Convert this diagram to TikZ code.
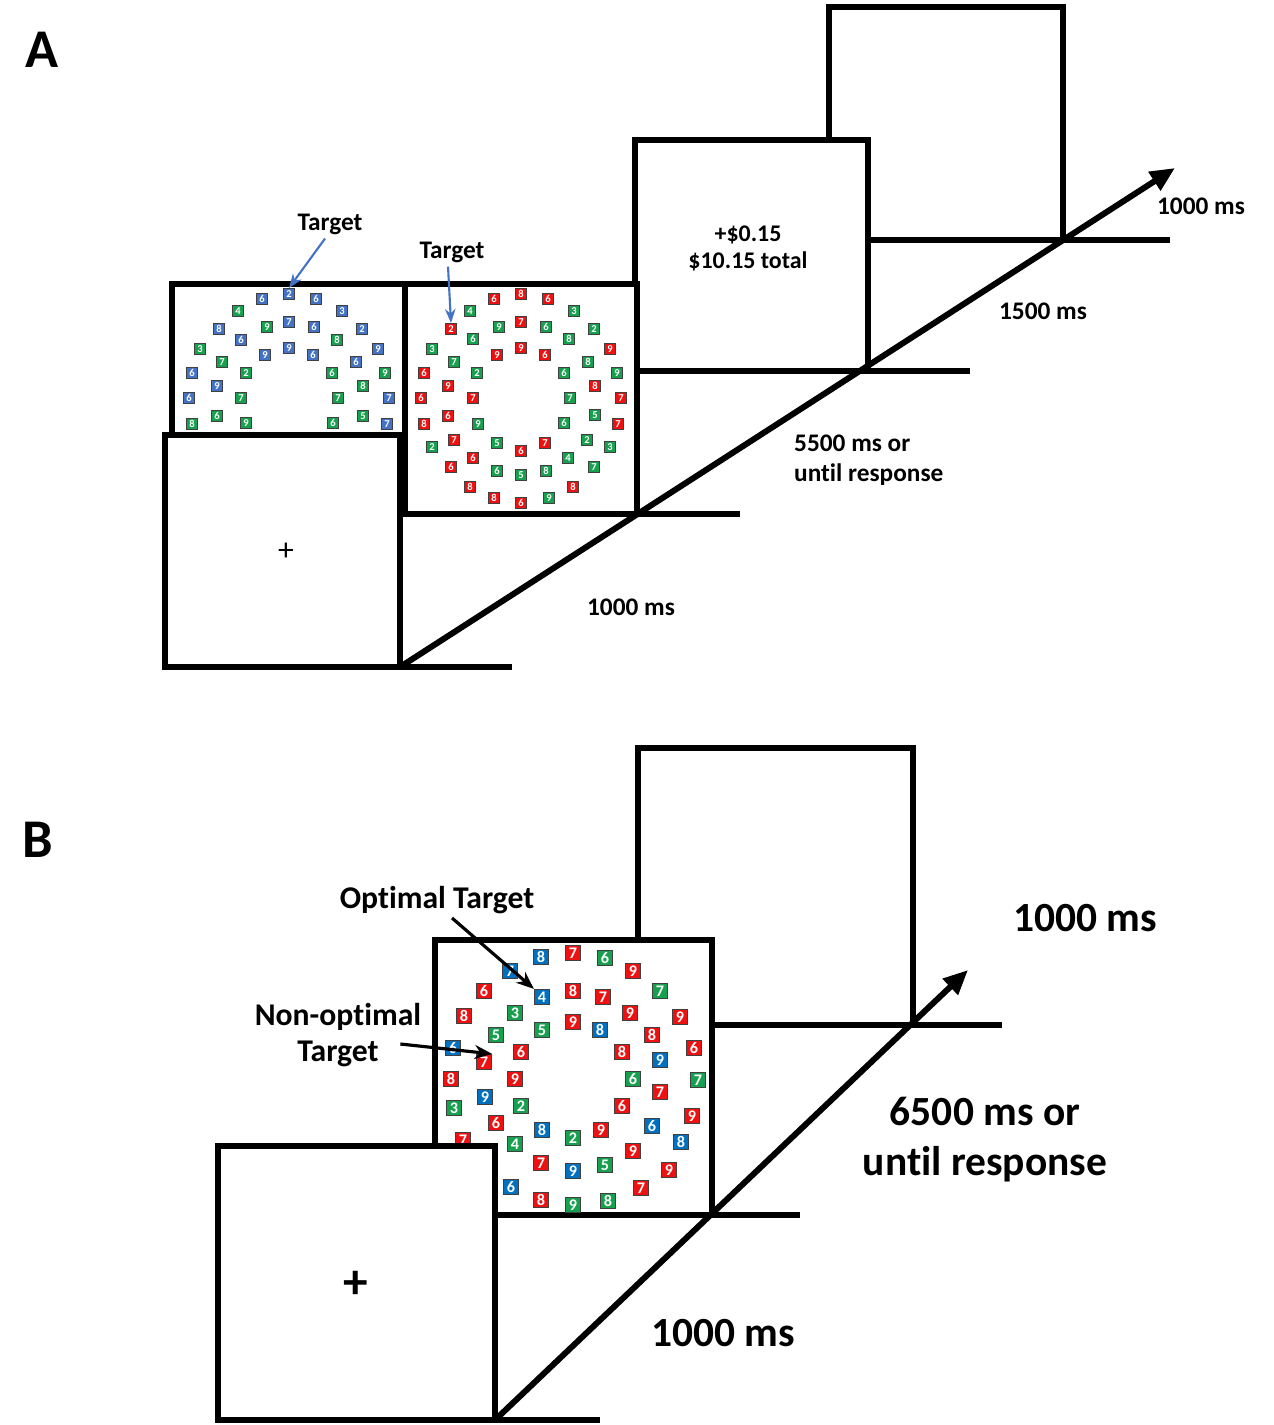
\documentclass[tikz,border=0pt]{standalone}
\usepackage{fontspec}
\setmainfont{Carlito}[Ligatures=NoCommon]
\usetikzlibrary{arrows.meta}

\definecolor{sqblue}{HTML}{4472C4}
\definecolor{sqbluedk}{HTML}{0070C0}
\definecolor{sqgreen}{HTML}{17A04E}
\definecolor{sqred}{HTML}{EE1111}
\definecolor{tgtblue}{HTML}{4472C4}

\begin{document}
\begin{tikzpicture}
  [x=0.01cm,y=-0.01cm,
   screen/.style={draw,line width=1.75pt,fill=white},
   tline/.style={line width=1.7pt},
   sqa/.style={draw=black!75,line width=0.3pt,minimum size=0.11cm,inner sep=0pt,text=white,font=\fontsize{3}{3}\selectfont\bfseries},
   sqb/.style={draw=black!75,line width=0.35pt,minimum size=0.15cm,inner sep=0pt,text=white,font=\fontsize{4.6}{4.6}\selectfont\bfseries},
   lbla/.style={font=\fontsize{7.2}{8.6}\selectfont\bfseries,inner sep=1pt},
   lblb/.style={font=\fontsize{11.8}{14.2}\selectfont\bfseries,inner sep=1pt},
   panel/.style={font=\fontsize{15.5}{16}\selectfont\bfseries,inner sep=0pt}]
  \useasboundingbox (0,0) rectangle (1273,1425);

  % ---- A ----
  \node[panel] (pa) at (42,50) {A};

  \draw[screen] (829,7) rectangle (1063,240);
  \draw[screen] (635,140) rectangle (868,371);
  \node[font=\fontsize{6.8}{7.7}\selectfont\bfseries,align=center] (fb) at (748,248) {+\$0.15\\\$10.15 total};

  \draw[screen] (172,284) rectangle (405,435);
  \foreach \x/\y/\c/\d in {262/299/sqblue/6, 316/299/sqblue/6, 238/311/sqgreen/4, 342/311/sqblue/3,
      267/327/sqgreen/9, 289/322/sqblue/7, 314/327/sqblue/6, 219/329/sqblue/8, 362/329/sqblue/2,
      241/340/sqblue/6, 337/340/sqgreen/8, 289/348/sqblue/9, 200/349/sqgreen/3, 265/355/sqblue/9,
      313/355/sqblue/6, 378/349/sqblue/9, 222/362/sqgreen/7, 356/362/sqblue/6, 192/373/sqblue/6,
      246/373/sqgreen/2, 332/373/sqgreen/6, 385/373/sqgreen/9, 217/386/sqblue/9, 363/386/sqgreen/8,
      189/398/sqblue/6, 241/398/sqgreen/7, 338/398/sqgreen/7, 389/398/sqblue/7, 217/416/sqgreen/6,
      363/416/sqgreen/5, 192/424/sqgreen/8, 246/423/sqgreen/9, 333/423/sqgreen/6, 387/424/sqblue/7}
    \node[sqa,fill=\c] at (\x,\y) {\d};
  \node[sqa,fill=sqblue] (ta) at (289,294) {2};

  \draw[screen] (405,284) rectangle (637,514);
  \foreach \x/\y/\c/\d in {521/294/sqred/8, 494/299/sqred/6, 548/299/sqred/6, 470/311/sqgreen/4,
      574/311/sqgreen/3, 521/322/sqred/7, 499/327/sqgreen/9, 546/327/sqgreen/6, 594/329/sqgreen/2,
      473/339/sqgreen/6, 569/339/sqgreen/8, 521/348/sqred/9, 432/349/sqgreen/3, 497/355/sqred/9,
      545/355/sqred/6, 610/349/sqred/9, 454/362/sqgreen/7, 588/362/sqgreen/8, 424/373/sqred/6,
      477/373/sqgreen/2, 564/373/sqgreen/6, 617/373/sqgreen/9, 448/386/sqred/9, 595/386/sqred/8,
      421/398/sqred/6, 473/398/sqred/7, 570/398/sqgreen/7, 621/398/sqred/7, 448/416/sqred/6,
      595/415/sqgreen/5, 424/424/sqred/8, 478/424/sqgreen/9, 564/423/sqgreen/6, 618/424/sqred/7,
      454/440/sqred/7, 587/440/sqgreen/2, 432/447/sqgreen/2, 497/443/sqgreen/5, 545/443/sqred/7,
      521/451/sqred/6, 610/447/sqgreen/3, 473/458/sqred/6, 568/458/sqgreen/4, 451/467/sqred/6,
      594/467/sqgreen/7, 497/471/sqgreen/6, 521/475/sqgreen/5, 546/471/sqgreen/8, 470/487/sqred/8,
      573/487/sqred/8, 494/498/sqred/8, 521/503/sqred/6, 549/498/sqgreen/9}
    \node[sqa,fill=\c] at (\x,\y) {\d};
  \node[sqa,fill=sqred] (tb) at (451,329) {2};

  \draw[screen] (165,435) rectangle (400,667);
  \node[font=\fontsize{9}{9}\selectfont] (fixa) at (286,552) {+};

  \node[lbla] (tgta) at (330,224) {Target};
  \node[lbla] (tgtb) at (452,252) {Target};
  \draw[tgtblue,line width=0.6pt,-{Stealth[length=4pt,width=3pt]}] ([xshift=-0.05cm]tgta.south) -- (ta.north);
  \draw[tgtblue,line width=0.6pt,-{Stealth[length=4pt,width=3pt]}] ([xshift=-0.04cm]tgtb.south) -- (tb.north);

  % time axis
  \coordinate (a0) at (400,667);  \coordinate (a0e) at (512,667);
  \coordinate (a1) at (637,514);  \coordinate (a1e) at (740,514);
  \coordinate (a2) at (868,371);  \coordinate (a2e) at (970,371);
  \coordinate (a3) at (1063,240); \coordinate (a3e) at (1170,240);
  \coordinate (aend) at (1175,168);
  \foreach \from/\to in {a0/a0e, a1/a1e, a2/a2e, a3/a3e}
    \draw[tline] (\from) -- (\to);
  \draw[tline,-{Triangle[length=7pt,width=6pt]}] (a0) -- (aend);

  \node[lbla] (da0) at (631,607) {1000 ms};
  \node[lbla,align=left,anchor=west] (da1) at (790,460) {5500 ms or\\until response};
  \node[lbla] (da2) at (1043,311) {1500 ms};
  \node[lbla] (da3) at (1201,206) {1000 ms};

  % ---- B ----
  \node[panel] (pb) at (38,840) {B};

  \draw[screen] (638,748) rectangle (913,1025);

  \draw[screen] (435,940) rectangle (712,1215);
  \foreach \x/\y/\c/\d in {510/971/sqbluedk/7, 541/957/sqbluedk/8, 573/953/sqred/7, 605/958/sqgreen/6,
      633/971/sqred/9, 484/991/sqred/6, 573/991/sqred/8, 603/997/sqred/7, 660/991/sqgreen/7,
      464/1016/sqred/8, 515/1013/sqgreen/3, 573/1022/sqred/9, 600/1030/sqbluedk/8, 630/1013/sqred/9,
      680/1017/sqred/9, 496/1035/sqgreen/5, 542/1030/sqgreen/5, 652/1035/sqred/8, 453/1048/sqbluedk/6,
      521/1052/sqred/6, 622/1052/sqred/8, 660/1060/sqbluedk/9, 694/1048/sqred/6, 451/1079/sqred/8,
      515/1079/sqred/9, 633/1079/sqgreen/6, 698/1080/sqgreen/7, 485/1097/sqbluedk/9, 660/1092/sqred/7,
      454/1108/sqgreen/3, 521/1106/sqgreen/2, 622/1106/sqred/6, 692/1116/sqred/9, 496/1123/sqred/6,
      542/1130/sqbluedk/8, 601/1130/sqred/9, 652/1126/sqbluedk/6, 573/1138/sqgreen/2, 681/1142/sqbluedk/8,
      463/1140/sqred/7, 515/1144/sqgreen/4, 633/1151/sqred/9, 541/1163/sqred/7, 573/1171/sqbluedk/9,
      605/1165/sqgreen/5, 669/1170/sqred/9, 511/1187/sqbluedk/6, 541/1200/sqred/8, 573/1205/sqgreen/9,
      608/1201/sqgreen/8, 641/1188/sqred/7}
    \node[sqb,fill=\c] at (\x,\y) {\d};
  \node[sqb,fill=sqbluedk] (opt4) at (542,997) {4};
  \node[sqb,fill=sqred] (nopt7) at (484,1062) {7};

  \draw[screen] (218,1146) rectangle (495,1420);
  \node[font=\fontsize{14}{14}\selectfont\bfseries] (fixb) at (356,1285) {+};

  \node[font=\fontsize{9}{10.2}\selectfont\bfseries,inner sep=1pt] (opt) at (437,900) {Optimal Target};
  \node[font=\fontsize{9}{10.2}\selectfont\bfseries,inner sep=1pt,align=center] (nopt) at (338,1035) {Non-optimal\\Target};
  \draw[line width=0.9pt,-{Stealth[length=5pt,width=4pt]}] ([xshift=0.15cm]opt.south) -- (opt4.north west);
  \draw[line width=0.9pt,-{Stealth[length=5pt,width=4pt]}] ([xshift=-0.25cm,yshift=-0.09cm]nopt.east) -- (nopt7.north east);

  % time axis
  \coordinate (b0) at (495,1420); \coordinate (b0e) at (600,1420);
  \coordinate (b1) at (712,1215); \coordinate (b1e) at (800,1215);
  \coordinate (b2) at (913,1025); \coordinate (b2e) at (1002,1025);
  \coordinate (bend) at (968,970);
  \foreach \from/\to in {b0/b0e, b1/b1e, b2/b2e}
    \draw[tline] (\from) -- (\to);
  \draw[tline,-{Triangle[length=7pt,width=6pt]}] (b0) -- (bend);

  \node[lblb] (db0) at (723,1333) {1000 ms};
  \node[lblb,align=center] (db1) at (985,1140) {6500 ms or\\until response};
  \node[lblb] (db2) at (1085,918) {1000 ms};
\end{tikzpicture}
\end{document}
